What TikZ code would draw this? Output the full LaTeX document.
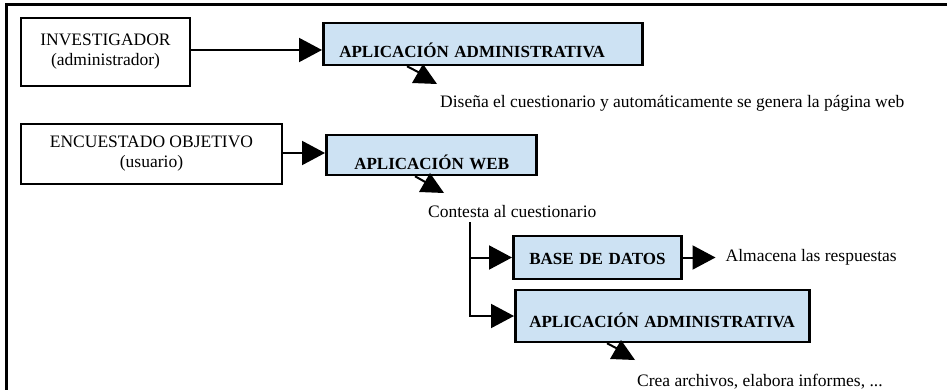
\documentclass[tikz,border=0pt]{standalone}
\usepackage{fontspec}
\setmainfont{Liberation Serif}
\usetikzlibrary{arrows.meta,positioning,calc}

\definecolor{boxblue}{RGB}{205,226,243}

% small filled head under a box, apex at the given point
\newcommand{\uptip}[1]{\fill (#1) -- ++(-11,19) -- ++(25,1) -- cycle;}

\begin{document}
\begin{tikzpicture}[x=1pt, y=-1pt,
  font=\fontsize{17.5}{20}\selectfont,
  whitebox/.style={draw, line width=2.5pt, align=center},
  bluebox/.style={draw, fill=boxblue, line width=2.5pt, anchor=west,
    font=\fontsize{17}{20}\selectfont\bfseries, align=left,
    inner ysep=0pt, inner xsep=16pt},
  arr/.style={line width=2pt, -{Triangle[length=23pt, width=24pt]}},
  conn/.style={line width=2pt},
  txt/.style={inner sep=0pt, anchor=base west}]

\useasboundingbox (0,0) rectangle (947,390);

% frame
\draw[line width=3pt] (6,390) -- (6,5) -- (947,5);

% first row
\node[whitebox, minimum width=169pt, minimum height=68pt] (inv) at (105.5,52) {INVESTIGADOR\\(administrador)};
\node[bluebox, text width=287pt, text height=35pt, text depth=7pt] (adm1) at (322,44) {APLICACIÓN~ADMINISTRATIVA};
\draw[arr] (inv.east |- 0,50) -- (adm1.west |- 0,50);

\coordinate (t1) at (423,64);
\draw[conn] ($(adm1.south west)+(85,0)$) -- (420,73);
\uptip{t1}
\node[txt] (dis) at (440,108) {Diseña el cuestionario y automáticamente se genera la página web};

% second row
\node[whitebox, minimum width=261pt, minimum height=60pt] (enc) at (151.5,154) {ENCUESTADO OBJETIVO\\(usuario)};
\node[bluebox, inner xsep=28pt, text width=154pt, text height=35pt, text depth=5pt] (web) at (325,155) {APLICACIÓN~WEB};
\draw[arr] (enc.east |- 0,153) -- (web.west |- 0,153);

\coordinate (t2) at (430,173);
\draw[conn] ($(web.south west)+(90,0)$) -- (427,183);
\uptip{t2}
\node[txt] (con) at (428,217) {Contesta al cuestionario};

% branches
\node[bluebox, text width=136pt, text height=28pt, text depth=15pt] (bd) at (512,257.5) {BASE~DE~DATOS};
\node[bluebox, inner xsep=14pt, text width=266pt, text height=37pt, text depth=15pt] (adm2) at (514,316) {APLICACIÓN~ADMINISTRATIVA};

\coordinate (trunk) at (470,222);
\draw[arr] (trunk) |- (adm2.west);
\draw[arr] (trunk |- bd.west) -- (bd.west);

\node[txt, anchor=west, inner xsep=10pt, right=33pt of bd] (alm) {Almacena las respuestas};
\draw[arr] (bd.east) -- (alm.west);

\coordinate (t3) at (621,340);
\draw[conn] ($(adm2.south west)+(93,0)$) -- (618,349);
\uptip{t3}
\node[txt] (crea) at (637,386) {Crea archivos, elabora informes, ...};

\end{tikzpicture}
\end{document}
